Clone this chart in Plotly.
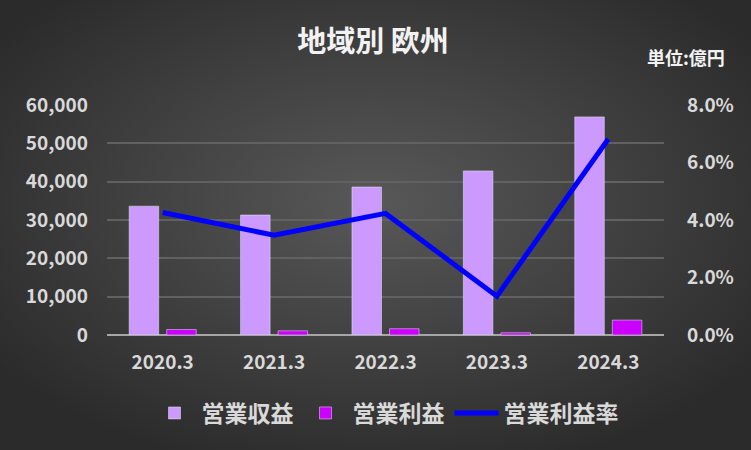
import base64
import plotly.graph_objects as go

categories = ["2020.3", "2021.3", "2022.3", "2023.3", "2024.3"]
revenue = [33600, 31300, 38600, 42800, 56900]
op_profit = [1430, 1090, 1630, 580, 3880]
op_margin = [0.0426, 0.0347, 0.0423, 0.0135, 0.0682]

W, H = 751, 450
L, R, T, B = 107, 87, 105, 115
pw, ph = W - L - R, H - T - B

svg = f'''<svg xmlns="http://www.w3.org/2000/svg" width="{W}" height="{H}" viewBox="0 0 {W} {H}" preserveAspectRatio="none">
<defs><radialGradient id="g" cx="50%" cy="45%" r="62%" fx="50%" fy="45%">
<stop offset="0%" stop-color="#585858"/><stop offset="100%" stop-color="#2b2b2b"/></radialGradient></defs>
<rect width="{W}" height="{H}" fill="url(#g)"/></svg>'''
src = "data:image/svg+xml;base64," + base64.b64encode(svg.encode()).decode()

FONT = "Noto Sans CJK JP"
TXT = "#d9d9d9"

fig = go.Figure()
fig.add_trace(go.Bar(x=categories, y=revenue, name="営業収益", marker_color="#CC99FF", yaxis="y"))
fig.add_trace(go.Bar(x=categories, y=op_profit, name="営業利益", marker_color="#CC00FF", yaxis="y"))
fig.add_trace(go.Scatter(x=categories, y=op_margin, name="営業利益率", mode="lines",
                         line=dict(color="#0000FF", width=5), yaxis="y2"))

fig.update_layout(
    width=W, height=H,
    margin=dict(l=L, r=R, t=T, b=B, autoexpand=False),
    paper_bgcolor="#3a3a3a", plot_bgcolor="rgba(0,0,0,0)",
    font=dict(family=FONT, color=TXT, size=18, weight="bold"),
    barmode="group", bargap=0.326, bargroupgap=0.213,
    title=dict(text="地域別 欧州", x=373 / W, xref="container", xanchor="center", y=1 - 42 / H, yanchor="middle",
               font=dict(family=FONT, size=29, color="#f2f2f2", weight="bold")),
    xaxis=dict(showgrid=False, showline=False, ticks="", tickfont=dict(size=19), ticklabelstandoff=14),
    yaxis=dict(range=[0, 60000], dtick=10000, tickformat=",d", showgrid=True, gridcolor="#616161",
               gridwidth=1.5, zeroline=True, zerolinecolor="#a6a6a6", zerolinewidth=2,
               showline=False, ticks="", tickfont=dict(size=19), ticklabelstandoff=18),
    yaxis2=dict(range=[0, 0.08], dtick=0.02, tickformat=".1%", overlaying="y", side="right",
                showgrid=False, zeroline=False, showline=False, ticks="", tickfont=dict(size=19),
                ticklabelstandoff=22),
    legend=dict(orientation="h", x=0.5, xanchor="center", y=-(413 - (T + ph)) / ph, yanchor="middle",
                font=dict(size=23, color=TXT), bgcolor="rgba(0,0,0,0)", itemwidth=44, traceorder="normal"),
    images=[dict(source=src, xref="paper", yref="paper", x=-L / pw, y=1 + T / ph,
                 sizex=W / pw, sizey=H / ph, sizing="stretch", layer="below", xanchor="left", yanchor="top")],
    annotations=[dict(text="単位:億円", xref="paper", yref="paper", x=(727 - L) / pw, y=(T + ph - 57) / ph,
                      xanchor="right", yanchor="middle", showarrow=False,
                      font=dict(family=FONT, size=18, color="#f2f2f2", weight="bold"))],
)

fig.write_html("out.html")
